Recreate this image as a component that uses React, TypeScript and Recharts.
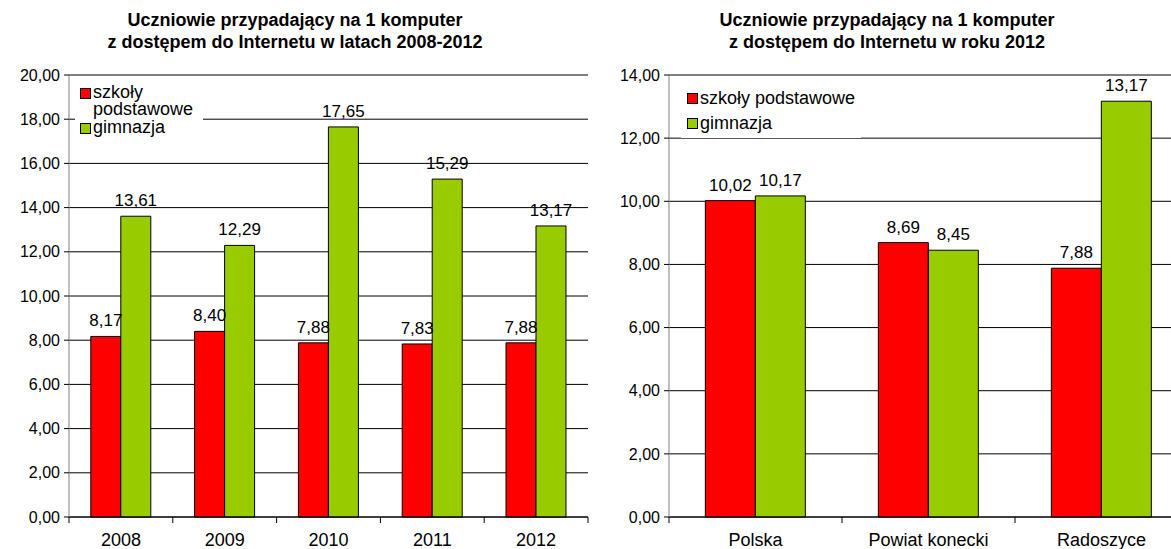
import React from "react";
import {
  BarChart,
  Bar,
  XAxis,
  YAxis,
  CartesianGrid,
  Legend,
  LabelList,
} from "recharts";

// left chart: years
const years = ["2008", "2009", "2010", "2011", "2012"];
const yearsPodstawowe = [8.17, 8.4, 7.88, 7.83, 7.88];
const yearsGimnazja = [13.61, 12.29, 17.65, 15.29, 13.17];
const yearsTicks = [0, 2, 4, 6, 8, 10, 12, 14, 16, 18, 20];

// right chart: areas in 2012
const areas = ["Polska", "Powiat konecki", "Radoszyce"];
const areasPodstawowe = [10.02, 8.69, 7.88];
const areasGimnazja = [10.17, 8.45, 13.17];
const areasTicks = [0, 2, 4, 6, 8, 10, 12, 14];

const seriesNames = ["szkoły podstawowe", "gimnazja"];

const RED = "#FF0000";
const GREEN = "#99CC00";
const FONT = "Arial, 'Liberation Sans', sans-serif";

const fmt = (n: number) => Number(n).toFixed(2).replace(".", ",");

const leftData = years.map((name, i) => ({
  name,
  podst: yearsPodstawowe[i],
  gimn: yearsGimnazja[i],
}));
const rightData = areas.map((name, i) => ({
  name,
  podst: areasPodstawowe[i],
  gimn: areasGimnazja[i],
}));

const TICK_SIZE = 6;
const TICK_MARGIN = 2;
const labelStyle = { fontSize: 17, fill: "#000", fontFamily: FONT };
const yTickStyle = { fontSize: 16, fill: "#000", fontFamily: FONT };

// x tick: label in the middle, tick marks on category boundaries
function makeTick(count: number, halfBand: number) {
  return function BoundaryTick(props: any) {
    const { x, y, payload, index } = props;
    const off = payload?.offset ?? halfBand;
    const axisY = y - TICK_SIZE - TICK_MARGIN;
    return (
      <g>
        <line x1={x - off} x2={x - off} y1={axisY} y2={axisY + TICK_SIZE} stroke="#000" />
        {index === count - 1 && (
          <line x1={x + off} x2={x + off} y1={axisY} y2={axisY + TICK_SIZE} stroke="#000" />
        )}
        <text x={x} y={axisY + 29} textAnchor="middle" fontSize={18} fill="#000" fontFamily={FONT}>
          {payload.value}
        </text>
      </g>
    );
  };
}

const ordered = (payload: any[]) =>
  [...(payload || [])].sort((a, b) => seriesNames.indexOf(a.value) - seriesNames.indexOf(b.value));

function LeftLegend({ payload }: any) {
  return (
    <div style={{ background: "#fff", width: 128, padding: "3px 0 5px 5px", boxSizing: "border-box" }}>
      {ordered(payload).map((p: any, i: number) => (
        <div key={i} style={{ display: "flex", alignItems: "flex-start", height: i === 0 ? 35 : 18 }}>
          <span
            style={{
              width: 9,
              height: 9,
              background: p.color,
              border: "1px solid #000",
              marginTop: 4,
              marginRight: 2,
              flex: "none",
            }}
          />
          <span style={{ width: 108, fontSize: 18, lineHeight: "17px", color: "#000" }}>{p.value}</span>
        </div>
      ))}
    </div>
  );
}

function RightLegend({ payload }: any) {
  return (
    <div style={{ background: "#fff", padding: "2px 6px" }}>
      {ordered(payload).map((p: any, i: number) => (
        <div key={i} style={{ display: "flex", alignItems: "center", height: 25 }}>
          <span
            style={{
              width: 9,
              height: 9,
              background: p.color,
              border: "1px solid #000",
              marginRight: 2,
              flex: "none",
            }}
          />
          <span style={{ fontSize: 18, color: "#000", whiteSpace: "nowrap" }}>{p.value}</span>
        </div>
      ))}
    </div>
  );
}

const titleStyle: React.CSSProperties = {
  position: "absolute",
  top: 9,
  textAlign: "center",
  fontWeight: "bold",
  fontSize: 18,
  lineHeight: "22px",
  color: "#000",
};

export default function App() {
  return (
    <div
      style={{
        position: "absolute",
        left: 0,
        top: 0,
        width: 1171,
        height: 549,
        overflow: "hidden",
        background: "#fff",
        fontFamily: FONT,
      }}
    >
      <div style={{ ...titleStyle, left: 0, width: 590 }}>
        Uczniowie przypadający na 1 komputer
        <br />z dostępem do Internetu w latach 2008-2012
      </div>
      <div style={{ ...titleStyle, left: 590, width: 594 }}>
        Uczniowie przypadający na 1 komputer
        <br />z dostępem do Internetu w roku 2012
      </div>

      <div style={{ position: "absolute", left: 0, top: 0 }}>
        <BarChart
          width={590}
          height={549}
          data={leftData}
          margin={{ top: 75, right: 2, left: 9, bottom: 2 }}
          barCategoryGap="21%"
          barGap={0}
        >
          <CartesianGrid vertical={false} stroke="#000" />
          <XAxis
            dataKey="name"
            height={30}
            axisLine={{ stroke: "#000" }}
            tickLine={false}
            tickSize={TICK_SIZE}
            tickMargin={TICK_MARGIN}
            interval={0}
            tick={makeTick(years.length, 52)}
          />
          <YAxis
            width={60}
            domain={[0, 20]}
            ticks={yearsTicks}
            interval={0}
            tickFormatter={fmt}
            axisLine={{ stroke: "#808080" }}
            tickLine={{ stroke: "#000" }}
            tickSize={5}
            tickMargin={4}
            tick={yTickStyle}
          />
          <Legend
            layout="vertical"
            align="center"
            verticalAlign="middle"
            wrapperStyle={{ position: "absolute", left: 75, top: 81, width: "auto" }}
            content={<LeftLegend />}
          />
          <Bar dataKey="podst" name={seriesNames[0]} fill={RED} stroke="#000" strokeWidth={1} isAnimationActive={false}>
            <LabelList dataKey="podst" position="top" offset={10} formatter={fmt as any} style={labelStyle} />
          </Bar>
          <Bar dataKey="gimn" name={seriesNames[1]} fill={GREEN} stroke="#000" strokeWidth={1} isAnimationActive={false}>
            <LabelList dataKey="gimn" position="top" offset={10} formatter={fmt as any} style={labelStyle} />
          </Bar>
        </BarChart>
      </div>

      <div style={{ position: "absolute", left: 590, top: 0 }}>
        <BarChart
          width={600}
          height={549}
          data={rightData}
          margin={{ top: 75, right: 2, left: 7, bottom: 2 }}
          barCategoryGap="21%"
          barGap={0}
        >
          <CartesianGrid vertical={false} stroke="#000" />
          <XAxis
            dataKey="name"
            height={30}
            axisLine={{ stroke: "#000" }}
            tickLine={false}
            tickSize={TICK_SIZE}
            tickMargin={TICK_MARGIN}
            interval={0}
            tick={makeTick(areas.length, 86)}
          />
          <YAxis
            width={72}
            domain={[0, 14]}
            ticks={areasTicks}
            interval={0}
            tickFormatter={fmt}
            axisLine={{ stroke: "#808080" }}
            tickLine={{ stroke: "#000" }}
            tickSize={5}
            tickMargin={4}
            tick={yTickStyle}
          />
          <Legend
            layout="vertical"
            align="center"
            verticalAlign="middle"
            wrapperStyle={{ position: "absolute", left: 91, top: 84, width: "auto" }}
            content={<RightLegend />}
          />
          <Bar dataKey="podst" name={seriesNames[0]} fill={RED} stroke="#000" strokeWidth={1} isAnimationActive={false}>
            <LabelList dataKey="podst" position="top" offset={10} formatter={fmt as any} style={labelStyle} />
          </Bar>
          <Bar dataKey="gimn" name={seriesNames[1]} fill={GREEN} stroke="#000" strokeWidth={1} isAnimationActive={false}>
            <LabelList dataKey="gimn" position="top" offset={10} formatter={fmt as any} style={labelStyle} />
          </Bar>
        </BarChart>
      </div>
    </div>
  );
}
